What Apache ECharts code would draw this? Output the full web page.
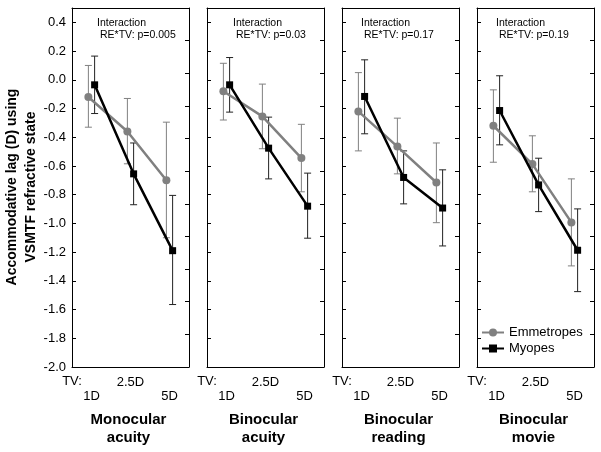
<!DOCTYPE html>
<html>
<head>
<meta charset="utf-8">
<script src="https://cdn.jsdelivr.net/npm/echarts@6/dist/echarts.min.js"></script>
<style>html,body{margin:0;padding:0;background:#fff}#c{width:601px;height:452px}</style>
</head>
<body>
<div id="c"></div>
<script>
const categories = ['1D', '2.5D', '5D'];
const panelTitles = ['Monocular\nacuity', 'Binocular\nacuity', 'Binocular\nreading', 'Binocular\nmovie'];
const pValues = ['p=0.005', 'p=0.03', 'p=0.17', 'p=0.19'];

const emmMean = [[-0.12, -0.36, -0.70], [-0.08, -0.255, -0.545], [-0.22, -0.465, -0.715], [-0.32, -0.587, -0.993]];
const emmLow  = [[-0.33, -0.585, -1.10], [-0.28, -0.48, -0.78], [-0.495, -0.655, -0.995], [-0.574, -0.78, -1.296]];
const emmHigh = [[0.10, -0.13, -0.295], [0.115, -0.03, -0.31], [0.05, -0.267, -0.44], [-0.07, -0.39, -0.69]];
const myoMean = [[-0.035, -0.655, -1.19], [-0.035, -0.476, -0.88], [-0.116, -0.68, -0.893], [-0.214, -0.732, -1.187]];
const myoLow  = [[-0.235, -0.87, -1.565], [-0.225, -0.69, -1.103], [-0.376, -0.864, -1.157], [-0.453, -0.918, -1.475]];
const myoHigh = [[0.165, -0.44, -0.805], [0.155, -0.26, -0.65], [0.139, -0.495, -0.627], [0.028, -0.546, -0.899]];

const FONT = '"Liberation Sans", Arial, sans-serif';
const GREY = '#808080';
const BLACK = '#000000';
const gridLefts = [72, 207, 342, 477];
const gridW = 117, gridTop = 8, gridH = 359;
const titleOffsets = [[25, 28], [26, 29], [19, 22], [19, 22]];
const shift = 0.08;

const grids = [], xAxes = [], yAxes = [], series = [], graphics = [];

function errRender(color) {
  return function (params, api) {
    const x = api.value(0), lo = api.value(1), hi = api.value(2);
    const p1 = api.coord([x, hi]), p2 = api.coord([x, lo]);
    const w = 3.5;
    const st = { stroke: color, lineWidth: 1 };
    return {
      type: 'group', children: [
        { type: 'line', shape: { x1: p1[0], y1: p1[1], x2: p2[0], y2: p2[1] }, style: st },
        { type: 'line', shape: { x1: p1[0] - w, y1: p1[1], x2: p1[0] + w, y2: p1[1] }, style: st },
        { type: 'line', shape: { x1: p2[0] - w, y1: p2[1], x2: p2[0] + w, y2: p2[1] }, style: st }
      ]
    };
  };
}

for (let i = 0; i < 4; i++) {
  grids.push({ left: gridLefts[i], top: gridTop, width: gridW, height: gridH });
  xAxes.push({
    type: 'category', gridIndex: i, position: 'bottom', data: categories,
    boundaryGap: true,
    axisLine: { onZero: false, lineStyle: { color: '#000', width: 1 } },
    axisTick: { inside: true, alignWithLabel: true, length: 4, lineStyle: { color: '#000' } },
    axisLabel: {
      interval: 0, margin: 8, color: '#000', fontSize: 13, fontFamily: FONT, lineHeight: 14,
      formatter: v => v === '2.5D' ? v : '\n' + v
    },
    splitLine: { show: false }
  });
  xAxes.push({
    type: 'category', gridIndex: i, position: 'top', data: categories,
    boundaryGap: true,
    axisLine: { onZero: false, lineStyle: { color: '#000', width: 1 } },
    axisTick: { inside: true, alignWithLabel: true, length: 4, lineStyle: { color: '#000' } },
    axisLabel: { show: false },
    splitLine: { show: false }
  });
  xAxes.push({ type: 'value', gridIndex: i, min: 0.5, max: 3.5, show: false, axisLine: { onZero: false } });

  yAxes.push({
    type: 'value', gridIndex: i, position: 'left', min: -2.0, max: 0.5, interval: 0.2,
    axisLine: { show: true, onZero: false, lineStyle: { color: '#000', width: 1 } },
    axisTick: { show: true, inside: true, length: 4, lineStyle: { color: '#000' } },
    axisLabel: {
      show: i === 0, margin: 6, color: '#000', fontSize: 13, fontFamily: FONT, showMaxLabel: false,
      formatter: v => (v > 0.45 ? '' : v.toFixed(1))
    },
    splitLine: { show: false }
  });
  yAxes.push({
    type: 'value', gridIndex: i, position: 'right', min: 0, max: 11, interval: 1,
    axisLine: { show: true, onZero: false, lineStyle: { color: '#000', width: 1 } },
    axisTick: { show: true, inside: true, length: 4, lineStyle: { color: '#000' } },
    axisLabel: { show: false },
    splitLine: { show: false }
  });

  const xi = 3 * i + 2, yi = 2 * i;
  const emmErr = categories.map((c, k) => [k + 1 - shift, emmLow[i][k], emmHigh[i][k]]);
  const myoErr = categories.map((c, k) => [k + 1 + shift, myoLow[i][k], myoHigh[i][k]]);
  series.push({
    type: 'custom', name: 'emmErr', xAxisIndex: xi, yAxisIndex: yi, data: emmErr,
    renderItem: errRender(GREY), z: 2, silent: true
  });
  series.push({
    type: 'custom', name: 'myoErr', xAxisIndex: xi, yAxisIndex: yi, data: myoErr,
    renderItem: errRender('#222'), z: 2, silent: true
  });
  series.push({
    type: 'line', name: 'Emmetropes', xAxisIndex: xi, yAxisIndex: yi,
    data: categories.map((c, k) => [k + 1 - shift, emmMean[i][k]]),
    symbol: 'circle', symbolSize: 8,
    lineStyle: { color: GREY, width: 2.5 }, itemStyle: { color: GREY },
    z: 3, animation: false
  });
  series.push({
    type: 'line', name: 'Myopes', xAxisIndex: xi, yAxisIndex: yi,
    data: categories.map((c, k) => [k + 1 + shift, myoMean[i][k]]),
    symbol: 'rect', symbolSize: 7,
    lineStyle: { color: BLACK, width: 2.5 }, itemStyle: { color: BLACK },
    z: 4, animation: false
  });

  graphics.push({
    type: 'text', left: gridLefts[i] + titleOffsets[i][0], top: 18,
    style: { text: 'Interaction', font: '10.5px ' + FONT, fill: '#000' }
  });
  graphics.push({
    type: 'text', left: gridLefts[i] + titleOffsets[i][1], top: 30,
    style: { text: 'RE*TV: ' + pValues[i], font: '10.5px ' + FONT, fill: '#000' }
  });
  graphics.push({
    type: 'text', x: gridLefts[i], y: 375,
    style: { text: 'TV:', font: '13px ' + FONT, fill: '#000', align: 'center', verticalAlign: 'top' }
  });
  graphics.push({
    type: 'text', x: gridLefts[i] + gridW / 2 - 2, y: 411,
    style: { text: panelTitles[i], font: 'bold 15px ' + FONT, fill: '#000', align: 'center', verticalAlign: 'top', lineHeight: 18 }
  });
}

graphics.push({
  type: 'text', x: 22, y: 187, rotation: Math.PI / 2,
  style: {
    text: 'Accommodative lag (D) using\nVSMTF refractive state',
    font: 'bold 14px ' + FONT, fill: '#000', align: 'center', verticalAlign: 'middle', lineHeight: 19
  }
});

const chart = echarts.init(document.getElementById('c'), null, { renderer: 'canvas' });
chart.setOption({
  animation: false,
  backgroundColor: '#fff',
  grid: grids,
  xAxis: xAxes,
  yAxis: yAxes,
  legend: {
    data: ['Emmetropes', 'Myopes'], orient: 'vertical', left: 481, top: 326,
    itemWidth: 22, itemHeight: 10, itemGap: 3, padding: 0,
    textStyle: { fontSize: 13, fontFamily: FONT, color: '#000' }
  },
  series: series,
  graphic: graphics
});
</script>
</body>
</html>
